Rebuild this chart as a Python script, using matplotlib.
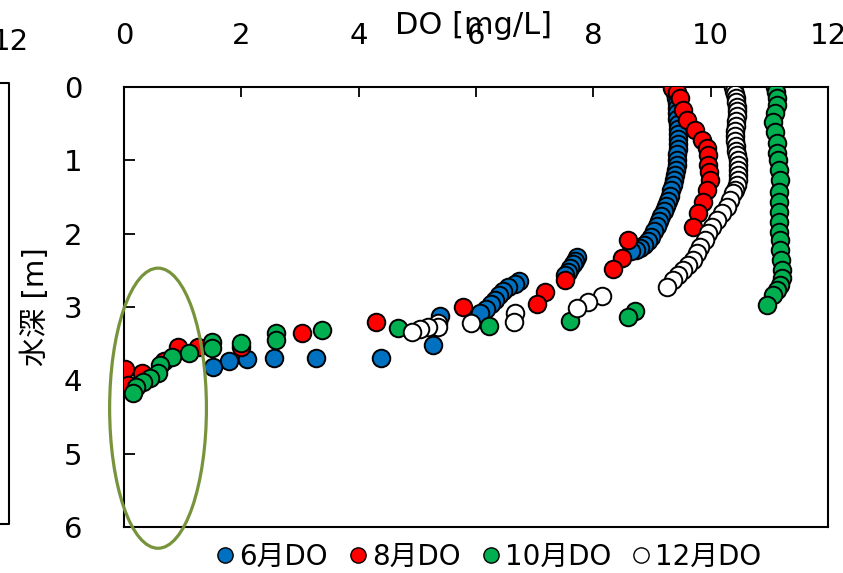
import matplotlib
matplotlib.use("Agg")
import matplotlib.pyplot as plt
from matplotlib.patches import Ellipse
from matplotlib.lines import Line2D

plt.rcParams['font.family'] = ['DejaVu Sans', 'Noto Sans CJK JP']

# 6月 DO profile (DO mg/L, depth m)
do_jun = [9.37, 9.39, 9.41, 9.42, 9.43, 9.43, 9.43, 9.44, 9.44, 9.44, 9.45, 9.44, 9.44, 9.43,
          9.43, 9.42, 9.41, 9.40, 9.38, 9.36, 9.33, 9.30, 9.27, 9.24, 9.20, 9.16, 9.12, 9.08,
          9.03, 8.98, 8.93, 8.87, 8.80, 8.72, 8.64,
          7.73, 7.69, 7.65, 7.61, 7.56, 7.52,
          6.74, 6.66, 6.55, 6.46, 6.39, 6.32, 6.25, 6.17, 6.07,
          5.39, 5.27, 4.38, 3.27, 2.56, 2.10, 1.79, 1.52]
dep_jun = [0.02, 0.08, 0.15, 0.22, 0.29, 0.36, 0.43, 0.50, 0.57, 0.64, 0.71, 0.78, 0.85, 0.92,
           0.99, 1.06, 1.13, 1.20, 1.27, 1.34, 1.41, 1.48, 1.55, 1.62, 1.69, 1.76, 1.83, 1.90,
           1.97, 2.04, 2.10, 2.15, 2.19, 2.22, 2.24,
           2.32, 2.37, 2.42, 2.47, 2.52, 2.56,
           2.64, 2.69, 2.73, 2.78, 2.84, 2.90, 2.96, 3.03, 3.08,
           3.12, 3.52, 3.70, 3.70, 3.70, 3.71, 3.74, 3.82]

# 8月
do_aug = [9.34, 9.43, 9.48, 9.53, 9.60, 9.73, 9.85, 9.94, 9.95, 9.95, 9.97, 9.99, 9.94, 9.87,
          9.78, 9.70, 8.59, 8.49, 8.34, 7.52, 7.17, 7.04, 5.77, 4.30, 3.03, 2.00, 1.26, 0.92,
          0.68, 0.30, 0.02, 0.07]
dep_aug = [0.01, 0.07, 0.15, 0.31, 0.45, 0.59, 0.72, 0.83, 0.93, 1.06, 1.16, 1.27, 1.40, 1.57,
           1.72, 1.91, 2.09, 2.33, 2.48, 2.63, 2.80, 2.96, 3.00, 3.20, 3.35, 3.55, 3.55, 3.55,
           3.73, 3.90, 3.85, 4.06]

# 10月
do_oct = [11.10, 11.11, 11.13, 11.13, 11.10, 11.06, 11.10, 11.13, 11.13, 11.15, 11.16, 11.18,
          11.16, 11.16, 11.16, 11.16, 11.16, 11.18, 11.18, 11.20, 11.22, 11.22, 11.18, 11.13,
          11.06, 10.96,
          8.71, 8.59, 7.60, 6.22, 4.67, 3.37, 2.59, 2.59, 1.99, 1.50, 1.50, 1.11, 0.82, 0.61,
          0.58, 0.44, 0.32, 0.20, 0.15]
dep_oct = [0.00, 0.07, 0.15, 0.25, 0.35, 0.48, 0.61, 0.76, 0.90, 1.00, 1.13, 1.27,
           1.43, 1.57, 1.70, 1.84, 1.98, 2.09, 2.22, 2.36, 2.50, 2.60, 2.70, 2.77,
           2.84, 2.97,
           3.06, 3.14, 3.19, 3.26, 3.29, 3.31, 3.35, 3.45, 3.49, 3.48, 3.56, 3.63, 3.68, 3.79,
           3.90, 3.97, 4.02, 4.09, 4.17]

# 12月
do_dec = [10.38, 10.40, 10.42, 10.43, 10.44, 10.45, 10.45, 10.45, 10.44, 10.43, 10.42, 10.42,
          10.42, 10.43, 10.44, 10.45, 10.46, 10.47, 10.47, 10.47, 10.46, 10.45, 10.42,
          10.38, 10.33, 10.28, 10.19, 10.11, 10.02, 9.95, 9.90, 9.82, 9.77, 9.70, 9.61, 9.53,
          9.44, 9.36, 9.26,
          8.15, 7.91, 7.72, 6.66, 6.65, 5.91, 5.35, 5.36, 5.18, 5.05, 4.91]
dep_dec = [0.00, 0.05, 0.10, 0.15, 0.20, 0.27, 0.33, 0.40, 0.47, 0.53, 0.60, 0.67,
           0.73, 0.80, 0.87, 0.93, 1.00, 1.07, 1.13, 1.20, 1.27, 1.33, 1.40,
           1.45, 1.54, 1.64, 1.72, 1.81, 1.91, 1.99, 2.09, 2.18, 2.26, 2.36, 2.43, 2.50,
           2.56, 2.63, 2.73,
           2.85, 2.93, 3.01, 3.08, 3.20, 3.22, 3.22, 3.27, 3.27, 3.30, 3.34]

series = [
    ("6月DO", do_jun, dep_jun, "#0070C0"),
    ("8月DO", do_aug, dep_aug, "#FF0000"),
    ("10月DO", do_oct, dep_oct, "#00B050"),
    ("12月DO", do_dec, dep_dec, "#FFFFFF"),
]

fig = plt.figure(figsize=(8.43, 5.73), dpi=100)
ax = fig.add_axes([124/843, 1 - 527/573, 704/843, 440/573])

for name, x, y, c in series:
    ax.scatter(x, y, s=160, c=c, edgecolors="black", linewidths=1.4, label=name, zorder=3)

ax.set_xlim(0, 12)
ax.set_ylim(6, 0)
ax.set_xticks(range(0, 13, 2))
ax.set_yticks(range(0, 7))
ax.xaxis.tick_top()
ax.tick_params(axis="x", direction="in", length=7, width=1.3, pad=27, labelsize=21)
ax.tick_params(axis="y", direction="in", length=8, width=1.3, pad=30, labelsize=21)
for sp in ax.spines.values():
    sp.set_linewidth(1.5)

ax.set_xlabel("DO [mg/L]", fontsize=22)
ax.xaxis.set_label_position("top")
ax.xaxis.set_label_coords(0.496, 1.14)
ax.xaxis.label.set_va("center")
ax.set_ylabel("水深 [m]", fontsize=21)
ax.yaxis.set_label_coords(-0.126, 0.5)
ax.yaxis.label.set_va("center")

# highlight ellipse near the bottom
ax.add_patch(Ellipse((0.58, 4.38), 1.65, 3.82, fill=False, edgecolor="#77933C",
                     linewidth=2.3, clip_on=False, zorder=4))

# leftover frame of a neighbouring chart at the left edge
fig.add_artist(Line2D([0, 9/843, 9/843, 0], [1 - 83/573, 1 - 83/573, 1 - 524/573, 1 - 524/573],
                      color="black", linewidth=1.5))
fig.text(29/843, 1 - 42/573, "12", ha="right", va="center", fontsize=21)

handles = [Line2D([], [], marker="o", linestyle="none", markersize=11, markerfacecolor=c,
                  markeredgecolor="black", markeredgewidth=1.0) for _, _, _, c in series]
fig.legend(handles, [s[0] for s in series], loc="center", bbox_to_anchor=(489/843, 1 - 557/573),
           ncol=4, frameon=False, fontsize=20, handlelength=0.6, handletextpad=0.2,
           columnspacing=0.8, borderpad=0.1)

fig.savefig("out.png", dpi=100)
